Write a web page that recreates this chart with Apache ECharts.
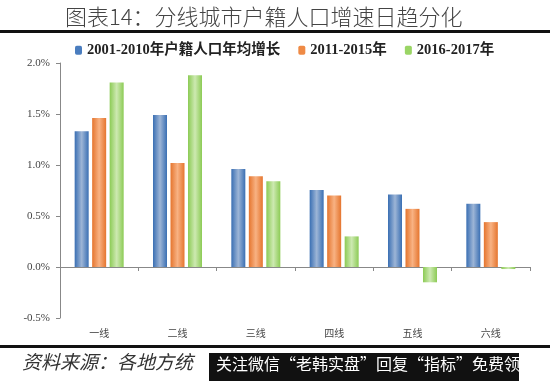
<!DOCTYPE html>
<html><head><meta charset="utf-8">
<script src="https://cdn.jsdelivr.net/npm/echarts@6/dist/echarts.min.js"></script>
<style>html,body{margin:0;padding:0;background:#fff}#c{width:550px;height:381px}</style>
</head><body><div id="c"></div>
<script>
var categories = ['一线','二线','三线','四线','五线','六线'];
var seriesNames = ['2001-2010年户籍人口年均增长','2011-2015年','2016-2017年'];
var s2001_2010 = [1.33, 1.49, 0.96, 0.755, 0.71, 0.62];
var s2011_2015 = [1.46, 1.02, 0.89, 0.70, 0.57, 0.44];
var s2016_2017 = [1.81, 1.88, 0.84, 0.30, -0.15, -0.02];

function grad(edge, mid){
  return new echarts.graphic.LinearGradient(0,0,1,0,[
    {offset:0,color:edge},{offset:0.5,color:mid},{offset:1,color:edge}]);
}
var colors = [grad('#3a6fb3','#9db5d6'), grad('#e5752e','#f8b283'), grad('#8ccb55','#cde9b1')];
var legendColors = ['#4a7dbf','#ef8a45','#9ad565'];
var data = [s2001_2010, s2011_2015, s2016_2017];

var chart = echarts.init(document.getElementById('c'));
chart.setOption({
  animation:false,
  backgroundColor:'#fff',
  title:{text:'图表14：分线城市户籍人口增速日趋分化', left:60, top:1,
    textStyle:{fontFamily:'Noto Sans CJK SC', fontWeight:300, fontSize:22, color:'#444'}},
  legend:{top:38, left:70, itemWidth:7, itemHeight:9, itemGap:18,
    textStyle:{fontFamily:'Liberation Serif, Noto Sans CJK SC', fontWeight:'bold', fontSize:14.5, color:'#222'},
    data: seriesNames.map(function(n,i){return {name:n, itemStyle:{color:legendColors[i]}};})},
  grid:{left:60, right:20, top:63, bottom:63},
  xAxis:[{type:'category', data:categories,
    axisLine:{lineStyle:{color:'#888'}},
    axisTick:{show:true, length:4, lineStyle:{color:'#888'}},
    axisLabel:{show:false}},
    {type:'category', data:categories, position:'bottom',
     axisLine:{show:false}, axisTick:{show:false},
     axisLabel:{margin:10, color:'#444', fontFamily:'Noto Sans CJK SC', fontSize:10}}],
  yAxis:{type:'value', min:-0.5, max:2.0, interval:0.5,
    axisLine:{show:true, lineStyle:{color:'#888'}},
    axisTick:{show:true, length:4, lineStyle:{color:'#888'}},
    splitLine:{show:false},
    axisLabel:{margin:10, color:'#444', fontFamily:'Liberation Serif', fontSize:11,
      formatter:function(v){return v.toFixed(1)+'%';}}},
  series: seriesNames.map(function(n,i){
    return {name:n, type:'bar', data:data[i], barWidth:14, barGap:'25%', xAxisIndex:0,
      itemStyle:{color:colors[i]}};
  }),
  graphic:[
    {type:'rect', left:0, top:30, shape:{width:550, height:3}, style:{fill:'#111'}},
    {type:'rect', left:0, top:345, shape:{width:550, height:3}, style:{fill:'#111'}},
    {type:'text', left:22, top:352, style:{text:'资料来源：各地方统', fontFamily:'Noto Sans CJK SC', fontStyle:'italic', fontSize:19, fill:'#333'}},
    {type:'rect', left:209, top:353, shape:{width:310, height:28}, style:{fill:'#111'}},
    {type:'text', left:216, top:356, style:{text:'关注微信“老韩实盘”回复“指标”免费领', fontFamily:'Noto Sans CJK SC', fontSize:16, fill:'#fff'}}
  ]
});
</script></body></html>
